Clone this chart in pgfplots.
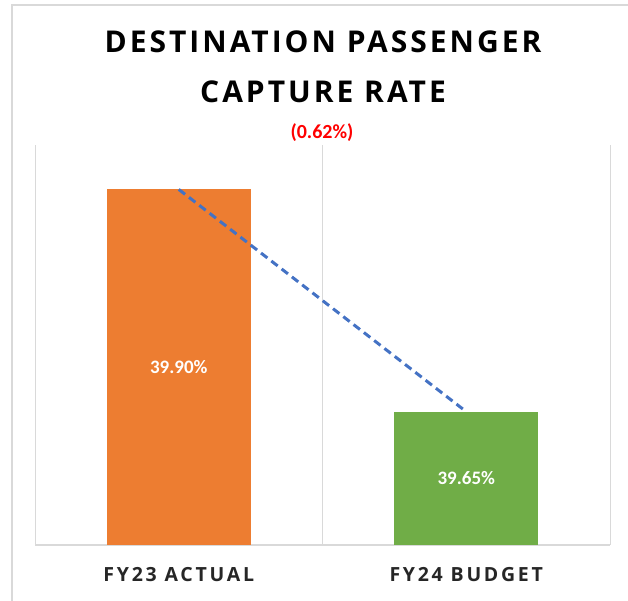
\documentclass[border=0pt]{standalone}
\usepackage{fontspec}
\setmainfont{Carlito}
\newfontfamily\titlefont[LetterSpace=10]{Open Sans}
\newfontfamily\catfont[LetterSpace=14]{Open Sans}
\usepackage{pgfplots}
\pgfplotsset{compat=1.18}
\definecolor{barorange}{HTML}{ED7D31}
\definecolor{bargreen}{HTML}{70AD47}
\definecolor{lineblue}{HTML}{4472C4}
\definecolor{gridgrey}{HTML}{D9D9D9}
\definecolor{deltared}{HTML}{FF0000}
\begin{document}
\begin{tikzpicture}
\useasboundingbox (0pt,0pt) rectangle (628pt,601pt);
% chart frame
\draw[gridgrey, line width=1.5pt] (12pt,-10pt) -- (12pt,596pt) -- (640pt,596pt);
% title
\node[anchor=base, font=\titlefont\bfseries\fontsize{30}{36}\selectfont] at (323pt,548pt) {DESTINATION PASSENGER};
\node[anchor=base, font=\titlefont\bfseries\fontsize{30}{36}\selectfont] at (323pt,498pt) {CAPTURE RATE};
% change label
\node[anchor=base, text=deltared, font=\bfseries\fontsize{20}{24}\selectfont] at (322pt,462pt) {(0.62\%)};
\begin{axis}[
    at={(35pt,56pt)}, anchor=south west,
    scale only axis, width=575pt, height=400pt,
    xmin=-0.5, xmax=1.5,
    ymin=39.5, ymax=39.95,
    xtick={0,1},
    xticklabels={FY23 ACTUAL, FY24 BUDGET},
    minor xtick={-0.5,0.5,1.5},
    xminorgrids,
    minor grid style={gridgrey, line width=1pt},
    ytick=\empty,
    axis y line=none,
    axis x line*=bottom,
    x axis line style={gridgrey, line width=1.2pt, -},
    major tick length=0pt, minor tick length=0pt,
    xticklabel style={anchor=base, yshift=-37pt, font=\catfont\bfseries\fontsize{19.5}{23}\selectfont, text=black!85},
]
\addplot[ybar, bar width=0.5, bar shift=0pt, fill=barorange, draw=none] coordinates {(0,39.90)};
\addplot[ybar, bar width=0.5, bar shift=0pt, fill=bargreen, draw=none] coordinates {(1,39.65)};
\addplot[lineblue, line width=3pt, dash pattern=on 8pt off 5pt] coordinates {(0,39.90) (1,39.65)};
\node[text=white, font=\bfseries\fontsize{19}{23}\selectfont] at (axis cs:0,39.70) {39.90\%};
\node[text=white, font=\bfseries\fontsize{19}{23}\selectfont] at (axis cs:1,39.575) {39.65\%};
\end{axis}
\end{tikzpicture}
\end{document}
